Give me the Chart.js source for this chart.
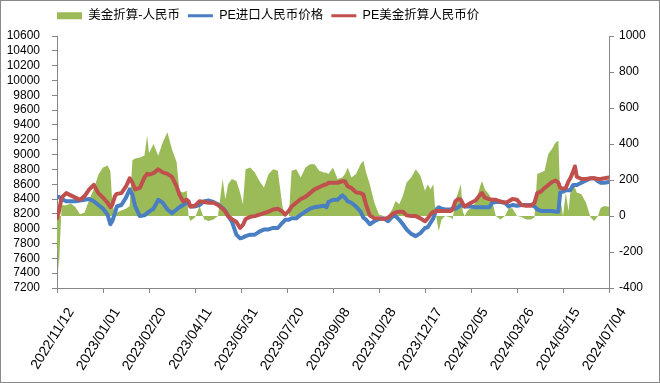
<!DOCTYPE html>
<html>
<head>
<meta charset="utf-8">
<script src="https://cdn.jsdelivr.net/npm/chart.js@4/dist/chart.umd.min.js"></script>
<style>
html,body{margin:0;padding:0;background:#fff;}
#wrap{width:660px;height:383px;position:relative;}
</style>
</head>
<body>
<div id="wrap"><canvas id="c" width="660" height="383"></canvas></div>
<script>
// Day offsets from 2022/11/12
const days = [0,2,5,10,15,20,25,30,35,40,45,50,55,58,60,63,65,70,75,79,82,85,90,95,98,100,105,110,115,120,125,130,133,137,141,143,145,150,155,160,165,170,175,180,183,186,190,195,199,202,205,210,215,220,225,230,235,240,245,248,252,255,260,265,270,275,280,285,290,293,295,300,305,310,313,316,320,325,330,333,336,340,345,350,355,360,365,368,372,376,380,385,390,395,400,403,406,409,411,413,415,418,422,428,430,433,436,439,441,443,446,450,455,460,462,465,470,473,477,482,487,491,495,500,505,510,515,519,522,526,530,534,538,542,545,547,550,553,556,558,561,563,565,570,575,580,584,588,591,595,600];

// PE进口人民币价格 (left axis)
const importCny = [8420,8430,8400,8370,8370,8370,8380,8390,8400,8370,8320,8270,8190,8060,8100,8210,8300,8320,8420,8530,8460,8300,8170,8180,8210,8230,8270,8390,8350,8260,8210,8260,8290,8320,8350,8340,8300,8300,8320,8370,8380,8360,8330,8280,8240,8170,8100,7920,7870,7880,7900,7920,7920,7960,7990,7990,8010,8010,8080,8120,8120,8140,8140,8190,8230,8270,8290,8300,8310,8290,8360,8390,8390,8450,8420,8370,8350,8300,8230,8150,8120,8060,8100,8130,8140,8100,8170,8170,8120,8060,7990,7930,7900,7940,8010,8020,8080,8140,8210,8270,8290,8270,8260,8260,8270,8270,8290,8320,8310,8300,8300,8300,8290,8290,8290,8290,8290,8350,8360,8360,8350,8300,8320,8310,8320,8320,8320,8300,8260,8240,8240,8240,8240,8230,8230,8490,8500,8520,8520,8520,8590,8590,8590,8620,8650,8680,8680,8640,8620,8620,8630];

// PE美金折算人民币价 (left axis)
const usdCny = [8140,8230,8420,8480,8450,8420,8390,8440,8530,8590,8480,8420,8350,8290,8320,8440,8470,8480,8570,8680,8620,8530,8550,8690,8740,8730,8750,8800,8760,8740,8700,8570,8460,8370,8390,8370,8300,8310,8370,8360,8350,8350,8320,8270,8230,8170,8130,8090,8010,8050,8130,8160,8170,8190,8210,8230,8260,8270,8230,8190,8240,8300,8350,8400,8430,8480,8530,8560,8590,8600,8620,8620,8620,8640,8640,8570,8550,8490,8480,8460,8320,8180,8140,8140,8130,8150,8200,8220,8230,8230,8180,8170,8170,8140,8100,8140,8190,8230,8230,8240,8240,8240,8240,8240,8260,8370,8400,8390,8340,8300,8320,8350,8380,8460,8480,8420,8400,8390,8390,8370,8350,8370,8400,8390,8320,8310,8310,8350,8480,8500,8550,8590,8630,8650,8620,8550,8540,8550,8640,8680,8770,8840,8700,8670,8670,8680,8680,8670,8670,8680,8690];

// 美金折算-人民币 (right axis)
const spread = [-150,-300,60,60,70,50,10,20,90,150,230,270,280,250,80,0,20,30,40,55,310,320,325,335,446,350,400,335,410,465,370,300,140,130,140,0,-28,-9,56,-19,-28,-19,0,205,93,177,205,195,130,65,260,270,242,195,158,233,260,251,56,0,0,251,260,214,270,288,288,251,242,240,233,270,205,214,233,270,214,233,288,307,242,177,74,9,0,0,43,84,65,112,186,214,260,223,140,177,149,177,46,-28,-84,-19,0,-9,-19,84,130,177,28,0,28,46,74,167,195,149,117,84,0,-19,0,43,43,0,-5,-19,-19,-9,233,242,251,344,372,409,418,102,0,130,28,130,167,158,130,121,74,-9,-28,0,46,56,51];

const xTickLabels = ['2022/11/12','2023/01/01','2023/02/20','2023/04/11','2023/05/31','2023/07/20','2023/09/08','2023/10/28','2023/12/17','2024/02/05','2024/03/26','2024/05/15','2024/07/04'];
const seriesNames = ['美金折算-人民币','PE进口人民币价格','PE美金折算人民币价'];
const seriesColors = ['#9BBB59','#4A7EC2','#C0504D'];

const toPts = arr => arr.map((v, i) => ({x: days[i], y: v}));

const axisColor = '#868686';
const tickFont = {family: '"Liberation Sans", Arial, sans-serif', size: 12};

const frame = {
  id: 'frame',
  beforeDraw(chart) {
    const ctx = chart.ctx;
    ctx.save();
    ctx.fillStyle = '#fff';
    ctx.fillRect(0, 0, chart.width, chart.height);
    ctx.strokeStyle = '#898989';
    ctx.lineWidth = 1;
    ctx.strokeRect(0.5, 0.5, chart.width - 1, chart.height - 1);
    ctx.restore();
  }
};
const legendPos = {
  id: 'legendPos',
  afterLayout(chart) {
    const lg = chart.legend;
    if (!lg) return;
    lg.left = 49;
    lg.top = 1.5;
  }
};

new Chart(document.getElementById('c'), {
  type: 'line',
  data: {
    datasets: [
      {
        label: seriesNames[0], data: toPts(spread), yAxisID: 'y1',
        fill: 'origin', backgroundColor: seriesColors[0], borderColor: seriesColors[0],
        borderWidth: 0, pointRadius: 0, tension: 0, order: 3
      },
      {
        label: seriesNames[1], data: toPts(importCny), yAxisID: 'y',
        fill: false, borderColor: seriesColors[1], backgroundColor: seriesColors[1],
        borderWidth: 4, pointRadius: 0, tension: 0, order: 2,
        borderJoinStyle: 'round', borderCapStyle: 'round'
      },
      {
        label: seriesNames[2], data: toPts(usdCny), yAxisID: 'y',
        fill: false, borderColor: seriesColors[2], backgroundColor: seriesColors[2],
        borderWidth: 4, pointRadius: 0, tension: 0, order: 1,
        borderJoinStyle: 'round', borderCapStyle: 'round'
      }
    ]
  },
  options: {
    responsive: false,
    animation: false,
    devicePixelRatio: 1,
    layout: {padding: {top: 5.5, bottom: 5, left: 0, right: 0}},
    plugins: {
      tooltip: {enabled: false},
      legend: {
        display: true, position: 'top', align: 'start',
        labels: {
          usePointStyle: true, pointStyleWidth: 25, boxHeight: 7, padding: 8,
          color: '#000',
          font: {family: '"Liberation Sans", "Noto Sans CJK SC", sans-serif', size: 12.5},
          generateLabels(chart) {
            return chart.data.datasets.map((ds, i) => ({
              text: ds.label,
              datasetIndex: i,
              fillStyle: seriesColors[i],
              strokeStyle: seriesColors[i],
              lineWidth: i === 0 ? 0 : 3,
              pointStyle: i === 0 ? 'rect' : 'line',
              hidden: false,
              fontColor: '#000'
            }));
          }
        }
      }
    },
    scales: {
      x: {
        type: 'linear', min: 0, max: 600,
        afterFit(s) { s.height = 90; },
        afterBuildTicks(s) { s.ticks = xTickLabels.map((_, i) => ({value: i * 50})); },
        ticks: {
          autoSkip: false, maxRotation: 58, minRotation: 58, color: '#000',
          font: {family: '"Liberation Sans", Arial, sans-serif', size: 14}, padding: 12,
          labelOffset: 14,
          callback: (v) => xTickLabels[Math.round(v / 50)]
        },
        grid: {drawOnChartArea: false, drawTicks: true, tickLength: 5, color: axisColor},
        border: {display: true, color: axisColor}
      },
      y: {
        position: 'left', min: 7200, max: 10600,
        afterFit(s) { s.width = 57; },
        ticks: {stepSize: 200, autoSkip: false, color: '#000', font: tickFont, padding: 12,
          callback: v => String(v)},
        grid: {drawOnChartArea: false, drawTicks: true, tickLength: 5, color: axisColor},
        border: {display: true, color: axisColor}
      },
      y1: {
        position: 'right', min: -400, max: 1000,
        afterFit(s) { s.width = 51; },
        ticks: {stepSize: 200, autoSkip: false, color: '#000', font: tickFont, padding: 5,
          callback: v => String(v)},
        grid: {drawOnChartArea: false, drawTicks: true, tickLength: 5, color: axisColor},
        border: {display: true, color: axisColor}
      }
    }
  },
  plugins: [frame, legendPos]
});
</script>
</body>
</html>
